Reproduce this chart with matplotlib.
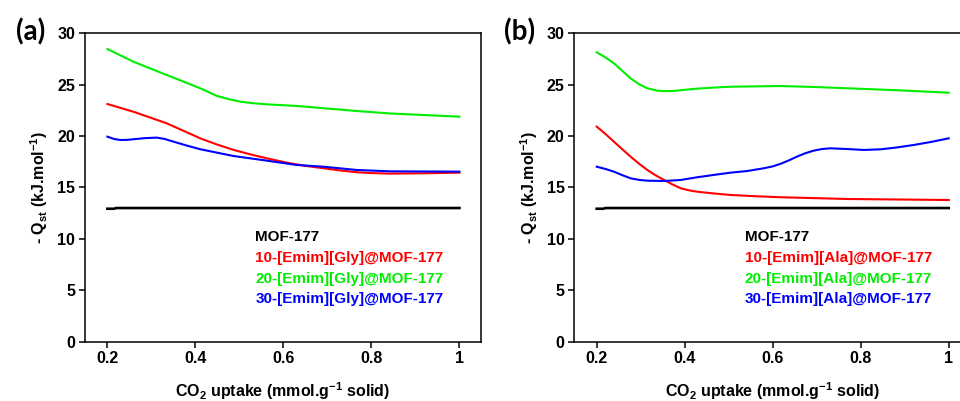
import matplotlib
matplotlib.use('Agg')
import matplotlib.pyplot as plt

plt.rcParams['font.family'] = ['Liberation Sans', 'DejaVu Sans']
plt.rcParams['font.weight'] = 'bold'
plt.rcParams['mathtext.fontset'] = 'custom'
plt.rcParams['mathtext.rm'] = 'Liberation Sans:bold'
plt.rcParams['mathtext.bf'] = 'Liberation Sans:bold'
plt.rcParams['mathtext.it'] = 'Liberation Sans:bold'
plt.rcParams['mathtext.default'] = 'rm'

# MOF-177 baseline (same in both panels)
x_mof = [0.2, 0.215, 0.22, 0.4, 0.6, 0.8, 1.0]
y_mof = [12.93, 12.93, 13.0, 13.0, 13.0, 13.0, 13.0]

# panel (a): [Emim][Gly]
x_gly_10 = [0.2, 0.259, 0.335, 0.411, 0.449, 0.487, 0.525, 0.562, 0.608, 0.65, 0.691, 0.73,
            0.767, 0.8, 0.842, 0.92, 1.0]
y_gly_10 = [23.12, 22.37, 21.24, 19.78, 19.18, 18.65, 18.22, 17.84, 17.41, 17.1, 16.87, 16.65,
            16.48, 16.4, 16.35, 16.38, 16.44]
x_gly_20 = [0.2, 0.259, 0.335, 0.411, 0.449, 0.475, 0.502, 0.53, 0.562, 0.63, 0.767, 0.842, 1.0]
y_gly_20 = [28.47, 27.24, 25.94, 24.65, 23.9, 23.6, 23.35, 23.2, 23.09, 22.93, 22.44, 22.2, 21.89]
x_gly_30 = [0.2, 0.215, 0.229, 0.245, 0.259, 0.285, 0.312, 0.33, 0.35, 0.38, 0.411, 0.45,
            0.487, 0.562, 0.63, 0.691, 0.767, 0.842, 1.0]
y_gly_30 = [19.94, 19.72, 19.62, 19.63, 19.69, 19.8, 19.85, 19.72, 19.46, 19.08, 18.72, 18.38,
            18.06, 17.61, 17.19, 17.02, 16.7, 16.57, 16.54]

# panel (b): [Emim][Ala]
x_ala_10 = [0.2, 0.22, 0.239, 0.258, 0.277, 0.296, 0.315, 0.334, 0.353, 0.372, 0.391, 0.41,
            0.428, 0.466, 0.504, 0.56, 0.617, 0.769, 1.0]
y_ala_10 = [20.92, 20.2, 19.46, 18.72, 18.0, 17.32, 16.7, 16.18, 15.73, 15.3, 14.92, 14.72,
            14.59, 14.42, 14.27, 14.15, 14.05, 13.88, 13.78]
x_ala_20 = [0.2, 0.22, 0.239, 0.258, 0.277, 0.296, 0.315, 0.337, 0.356, 0.375, 0.4, 0.428,
            0.466, 0.504, 0.617, 0.693, 0.769, 0.882, 1.0]
y_ala_20 = [28.15, 27.65, 27.08, 26.35, 25.62, 25.05, 24.65, 24.42, 24.37, 24.39, 24.5, 24.61,
            24.72, 24.8, 24.87, 24.78, 24.65, 24.46, 24.22]
x_ala_30 = [0.2, 0.22, 0.239, 0.258, 0.277, 0.296, 0.315, 0.353, 0.391, 0.428, 0.466, 0.504,
            0.542, 0.58, 0.6, 0.617, 0.636, 0.655, 0.674, 0.693, 0.712, 0.731, 0.769, 0.807,
            0.845, 0.88, 0.92, 0.96, 1.0]
y_ala_30 = [17.02, 16.8, 16.54, 16.2, 15.89, 15.74, 15.66, 15.63, 15.73, 15.99, 16.22, 16.44,
            16.6, 16.87, 17.05, 17.29, 17.62, 18.0, 18.33, 18.58, 18.74, 18.81, 18.74, 18.65,
            18.71, 18.88, 19.13, 19.43, 19.78]

colors = ['black', '#ff0000', '#00ee00', '#0000ff']

panels = [
    ('(a)', [0.0885, 0.148, 0.4125, 0.769], 'Gly',
     [(x_gly_10, y_gly_10), (x_gly_20, y_gly_20), (x_gly_30, y_gly_30)]),
    ('(b)', [0.5982, 0.148, 0.4125, 0.769], 'Ala',
     [(x_ala_10, y_ala_10), (x_ala_20, y_ala_20), (x_ala_30, y_ala_30)]),
]

fig = plt.figure(figsize=(9.6, 4.01), dpi=100)

for tag, rect, il, curves in panels:
    ax = fig.add_axes(rect)
    ax.plot(x_mof, y_mof, color='black', linewidth=1.9)
    for (xs, ys), c in zip(curves, colors[1:]):
        ax.plot(xs, ys, color=c, linewidth=1.5)

    ax.set_xlim(0.149, 1.049)
    ax.set_ylim(0, 30)
    ax.set_xticks([0.2, 0.4, 0.6, 0.8, 1.0])
    ax.set_xticklabels(['0.2', '0.4', '0.6', '0.8', '1'])
    ax.set_yticks([0, 5, 10, 15, 20, 25, 30])
    ax.tick_params(direction='out', length=4, width=1.1, labelsize=11.5, pad=3,
                   top=False, right=False)
    for s in ax.spines.values():
        s.set_linewidth(1.1)

    ax.set_xlabel('CO$_2$ uptake (mmol.g$^{-1}$ solid)', fontsize=11.5,
                  fontweight='bold', labelpad=10)
    ax.set_ylabel('- Q$_{st}$ (kJ.mol$^{-1}$)', fontsize=11.5,
                  fontweight='bold', labelpad=5)

    names = ['MOF-177',
             '10-[Emim][%s]@MOF-177' % il,
             '20-[Emim][%s]@MOF-177' % il,
             '30-[Emim][%s]@MOF-177' % il]
    for name, c, yy in zip(names, colors, [10.18, 8.14, 6.1, 4.15]):
        ax.text(0.536, yy, name, color=c, fontsize=11, fontweight='bold',
                ha='left', va='center')

    fig.text(rect[0] - 0.057, 0.92, tag, fontsize=20, fontweight='bold',
             family=['Lato', 'DejaVu Sans'], ha='center', va='center')

fig.savefig('out.png', dpi=100)
